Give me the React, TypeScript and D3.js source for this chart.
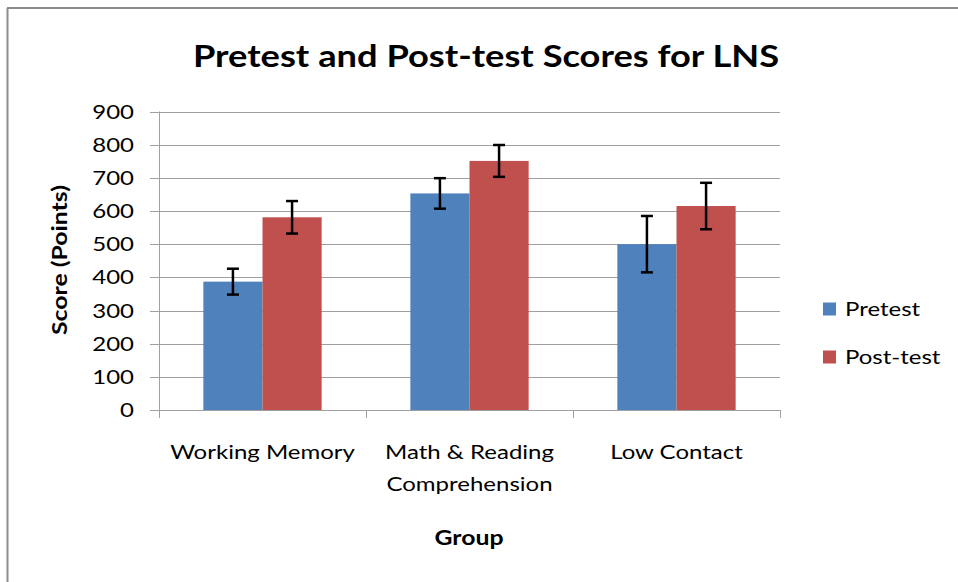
import React from "react";
import * as d3 from "d3";

const categories = ["Working Memory", "Math & Reading\nComprehension", "Low Contact"];
const seriesNames = ["Pretest", "Post-test"];
const pretest = [387, 653, 500];
const posttest = [581, 751, 615];
const pretestErr = [39, 46, 85];
const posttestErr = [49, 48, 70];
const yTicks = [0, 100, 200, 300, 400, 500, 600, 700, 800, 900];
const colors = ["#4F81BD", "#C0504D"];

const W = 958, H = 582;
const plot = { left: 159, right: 780, top: 111.5, bottom: 410 };
const FONT = "Lato, 'Open Sans', sans-serif";
const SX = 1.2;

function T(props: { x: number; y: number; anchor?: string; size: number; bold?: boolean; rotate?: number; dy?: string; sx?: number; children: React.ReactNode }) {
  const { x, y, anchor = "start", size, bold, rotate = 0, dy, sx = SX, children } = props;
  return (
    <text
      transform={`translate(${x},${y}) rotate(${rotate}) scale(${sx},1)`}
      textAnchor={anchor as any}
      fontSize={size}
      fontWeight={bold ? "bold" : "normal"}
      dy={dy}
      fill="#000"
    >
      {children}
    </text>
  );
}

export default function App() {
  const y = d3.scaleLinear().domain([0, 900]).range([plot.bottom, plot.top]);
  const x0 = d3.scaleBand().domain(categories).range([plot.left, plot.right]).paddingInner(0).paddingOuter(0);
  const bw = x0.bandwidth();
  const groupW = bw / (1 + 1.5 / 2);
  const x1 = d3.scaleBand().domain(seriesNames).range([0, groupW]).padding(0);
  const values = [pretest, posttest];
  const errs = [pretestErr, posttestErr];
  const grid = "#A0A0A0";
  return (
    <svg width={W} height={H} style={{ position: "absolute", left: 0, top: 0, background: "#fff" }} fontFamily={FONT}>
      <rect x={0} y={0} width={W} height={H} fill="#fff" />
      <line x1={7} y1={8} x2={W} y2={8} stroke="#8C8C8C" strokeWidth={2} />
      <line x1={7.5} y1={8} x2={7.5} y2={H} stroke="#8C8C8C" strokeWidth={2} />
      <T x={486} y={67} anchor="middle" size={31} bold sx={1.17}>Pretest and Post-test Scores for LNS</T>
      {yTicks.map((t) => (
        <g key={t}>
          <line x1={150} x2={plot.right} y1={Math.round(y(t)) + 0.5} y2={Math.round(y(t)) + 0.5} stroke={grid} strokeWidth={1} />
          <T x={134} y={y(t)} dy="0.35em" anchor="end" size={20}>{t}</T>
        </g>
      ))}
      <line x1={plot.left + 0.5} x2={plot.left + 0.5} y1={plot.top} y2={plot.bottom} stroke={grid} />
      {[...categories.map((c) => x0(c)!), plot.right].map((xx, i) => (
        <line key={i} x1={Math.round(xx) + 0.5} x2={Math.round(xx) + 0.5} y1={plot.bottom} y2={plot.bottom + 8} stroke={grid} />
      ))}
      {categories.map((c, ci) => {
        const gx = x0(c)! + (bw - groupW) / 2;
        return (
          <g key={c}>
            {seriesNames.map((s, si) => {
              const v = values[si][ci];
              const e = errs[si][ci];
              const bx = gx + x1(s)!;
              const bwid = x1.bandwidth();
              const cx = bx + bwid / 2;
              return (
                <g key={s}>
                  <rect x={bx} y={y(v)} width={bwid} height={plot.bottom - y(v)} fill={colors[si]} />
                  <line x1={cx} x2={cx} y1={y(v + e)} y2={y(v - e)} stroke="#000" strokeWidth={2.5} />
                  <line x1={cx - 6} x2={cx + 6} y1={y(v + e)} y2={y(v + e)} stroke="#000" strokeWidth={2.5} />
                  <line x1={cx - 6} x2={cx + 6} y1={y(v - e)} y2={y(v - e)} stroke="#000" strokeWidth={2.5} />
                </g>
              );
            })}
            {c.split("\n").map((ln, li) => (
              <T key={li} x={x0(c)! + bw / 2} y={459 + li * 32} anchor="middle" size={20}>{ln}</T>
            ))}
          </g>
        );
      })}
      <T x={67} y={260} rotate={-90} anchor="middle" size={20} bold sx={1.24}>Score (Points)</T>
      <T x={469} y={545} anchor="middle" size={20} bold sx={1.24}>Group</T>
      {seriesNames.map((s, i) => (
        <g key={s}>
          <rect x={823} y={309 + i * 48 - 6.5} width={13} height={13} fill={colors[i]} />
          <T x={845} y={309 + i * 48} dy="0.35em" size={20}>{s}</T>
        </g>
      ))}
    </svg>
  );
}
